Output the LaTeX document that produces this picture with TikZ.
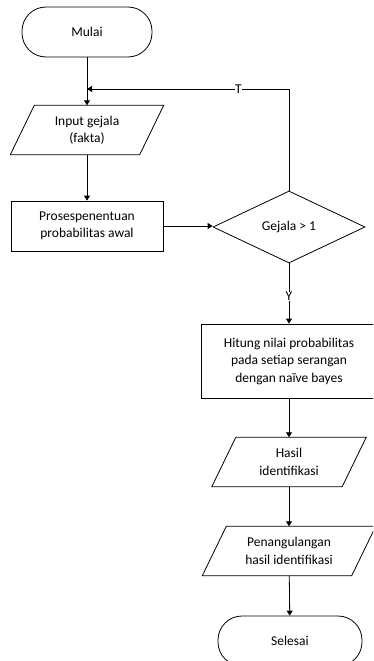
\documentclass[tikz,border=0pt]{standalone}
\usepackage{fontspec}
\setmainfont{Carlito}
\usetikzlibrary{shapes.geometric,arrows.meta,calc}
\tikzstyle{box}=[rectangle, draw=black, line width=0.8pt, align=center, inner sep=0pt, anchor=center, font=\fontsize{13.5}{17.5}\selectfont]
\tikzstyle{term}=[box, rounded corners=24pt, minimum height=50pt]
\tikzstyle{cond}=[box, diamond, aspect=2, minimum width=152pt, minimum height=72pt]
\tikzstyle{annot}=[align=center, inner sep=0pt, anchor=center, font=\fontsize{13.5}{17.5}\selectfont]
\tikzstyle{flow}=[line width=0.8pt, -{Triangle[width=6pt,length=5pt]}]
% data box: name, position, width, text
\newcommand{\iobox}[4]
{
  \node[annot, minimum width=#3, minimum height=49pt](#1) at (#2){#4};
  \draw[line width=0.8pt] ([xshift=12pt]#1.north west) -- ([xshift=12pt]#1.north east)
    -- ([xshift=-12pt]#1.south east) -- ([xshift=-12pt]#1.south west) -- cycle;
}

\begin{document}
\begin{tikzpicture}[x=1pt, y=-1pt]
	\useasboundingbox (0,0) rectangle (373,661);
	\clip (0,0) rectangle (373,661);

	\node[term, minimum width=130pt](mulai) at (87,32){Mulai};
	\iobox{input}{87,130}{129pt}{Input gejala\\(fakta)}
	\node[box, minimum width=152pt, minimum height=50pt](proses) at (87,226){Prosespenentuan\\probabilitas awal};
	\node[cond](gejala) at (289,227){Gejala > 1};
	\node[box, minimum width=176pt, minimum height=74pt](hitung) at (289,361){Hitung nilai probabilitas\\pada setiap serangan\\dengan naïve bayes};
	\iobox{hasil}{289,462}{130pt}{Hasil\\identifikasi}
	\iobox{tangani}{289,551}{149pt}{Penangulangan\\hasil identifikasi}
	\node[term, minimum width=144pt](selesai) at (290,641){Selesai};

	\coordinate (join) at (87,89);

	\draw[flow] (mulai) -- (input);
	\draw[flow] (input) -- (proses);
	\draw[flow] (proses.east) -- (proses.east -| gejala.west);
	\draw[flow] (gejala.north) |- node[annot, fill=white, pos=0.625]{T} (join);
	\draw[flow] (gejala.south) -- node[annot, fill=white, yshift=-3pt]{Y} (hitung.north);
	\draw[flow] (hitung) -- (hasil);
	\draw[flow] (hasil) -- (tangani);
	\draw[flow] (tangani) -- (selesai);

\end{tikzpicture}
\end{document}
